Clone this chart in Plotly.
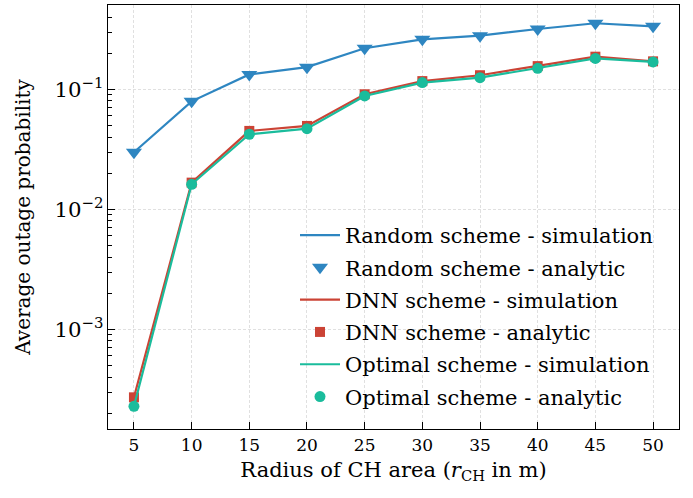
import plotly.graph_objects as go

# CH-area radius (m)
radius = [5, 10, 15, 20, 25, 30, 35, 40, 45, 50]

# Average outage probability per scheme
random_sim = [0.0299, 0.0794, 0.133, 0.153, 0.220, 0.261, 0.280, 0.318, 0.355, 0.335]
random_ana = [0.0299, 0.0794, 0.133, 0.153, 0.220, 0.261, 0.280, 0.318, 0.355, 0.335]
dnn_sim = [0.000271, 0.01668, 0.0450, 0.0495, 0.0909, 0.117, 0.131, 0.156, 0.187, 0.171]
dnn_ana = [0.000271, 0.01668, 0.0450, 0.0495, 0.0909, 0.117, 0.131, 0.156, 0.187, 0.171]
opt_sim = [0.000228, 0.01616, 0.0422, 0.0470, 0.0880, 0.1137, 0.125, 0.1496, 0.181, 0.169]
opt_ana = [0.000228, 0.01616, 0.0422, 0.0470, 0.0880, 0.1137, 0.125, 0.1496, 0.181, 0.169]

x_tickvals = radius
# minor tick positions: 2..9 within each decade
y_minor = [m * 10.0 ** e for e in (-4, -3, -2, -1) for m in range(2, 10)]

Y_RANGE = [-3.831, -0.2975]

BLUE = "#2E86C1"
RED = "#CB4335"
TEAL = "#1ABC9C"
FONT = "'DejaVu Serif', serif"

fig = go.Figure()
fig.add_trace(go.Scatter(x=radius, y=random_sim, mode="lines", name="Random scheme - simulation",
                         line=dict(color=BLUE, width=2.2), legendgroup="g1"))
fig.add_trace(go.Scatter(x=radius, y=random_ana, mode="markers", name="Random scheme - analytic",
                         marker=dict(color=BLUE, symbol="triangle-down", size=14), legendgroup="g2"))
fig.add_trace(go.Scatter(x=radius, y=dnn_sim, mode="lines", name="DNN scheme - simulation",
                         line=dict(color=RED, width=2.2), legendgroup="g3"))
fig.add_trace(go.Scatter(x=radius, y=dnn_ana, mode="markers", name="DNN scheme - analytic",
                         marker=dict(color=RED, symbol="square", size=10), legendgroup="g4"))
fig.add_trace(go.Scatter(x=radius, y=opt_sim, mode="lines", name="Optimal scheme - simulation",
                         line=dict(color=TEAL, width=2.2), legendgroup="g5"))
# top-most series sits on the overlaid twin axis (identical log scale)
fig.add_trace(go.Scatter(x=radius, y=opt_ana, mode="markers", name="Optimal scheme - analytic",
                         marker=dict(color=TEAL, symbol="circle", size=11), legendgroup="g6",
                         yaxis="y2"))

grid = dict(showgrid=True, gridcolor="#e0e0e0", griddash="3px,2px", gridwidth=1)

fig.update_layout(
    width=693, height=498,
    margin=dict(l=108, r=14, t=5, b=69),
    paper_bgcolor="white", plot_bgcolor="white",
    font=dict(family=FONT, size=17, color="black"),
    showlegend=True,
    legend=dict(x=0.3275, y=0.505, xanchor="left", yanchor="top", bgcolor="rgba(0,0,0,0)",
                font=dict(family=FONT, size=21), itemwidth=40, tracegroupgap=2),
    xaxis=dict(range=[2.75, 52.25], tickvals=x_tickvals, ticks="inside", ticklen=7,
               tickwidth=1.3, tickcolor="black", showline=True, linecolor="black",
               linewidth=1.3, mirror=True, zeroline=False,
               title=dict(text="Radius of CH area (<i>r</i><sub>CH</sub> in m)", standoff=8,
                          font=dict(size=21)),
               tickfont=dict(size=17), **grid),
    yaxis=dict(type="log", range=Y_RANGE, tickmode="linear", tick0=0, dtick=1,
               exponentformat="power", showexponent="all",
               ticks="inside", ticklen=7, tickwidth=1.3, tickcolor="black",
               showline=True, linecolor="black", linewidth=1.3, mirror=True, zeroline=False,
               title=dict(text="Average outage probability", standoff=18, font=dict(size=20)),
               tickfont=dict(size=17), **grid),
    # twin log axis on the same scale carrying the short minor ticks
    yaxis2=dict(type="log", range=Y_RANGE, overlaying="y", side="left", anchor="x",
                tickmode="array", tickvals=y_minor, ticks="inside", ticklen=4, tickwidth=1.2,
                tickcolor="black", showticklabels=False, showgrid=False, showline=False,
                zeroline=False),
)

fig.write_html("out.html")
